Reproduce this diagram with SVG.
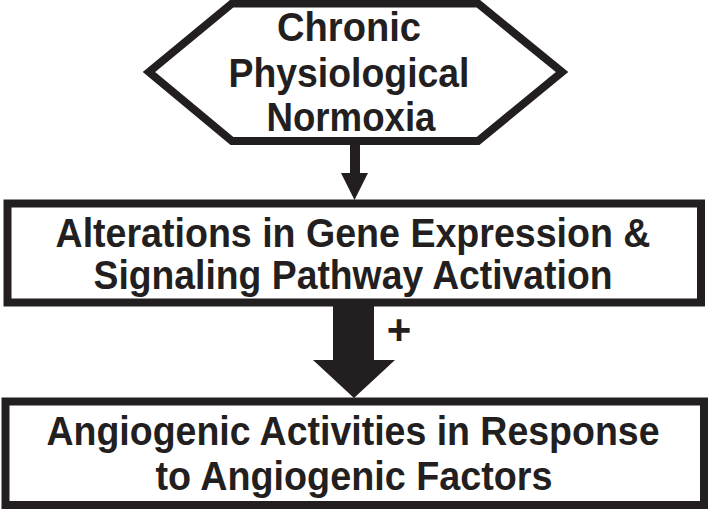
<svg xmlns="http://www.w3.org/2000/svg" width="709" height="511" viewBox="0 0 709 511">
<style>
.shape{fill:#fff;stroke:#231f20;stroke-width:8;stroke-linejoin:miter}
.t{font-family:"Liberation Sans",Arial,sans-serif;font-weight:bold;font-size:40px;fill:#231f20;text-anchor:middle}
.conn{fill:#231f20;stroke:none}
</style>
<rect width="709" height="511" fill="#fff"/>
<g id="node-normoxia">
<polygon class="shape" points="232,3.5 478,3.5 562,72 478,141 232,141 149,72"/>
<text class="t" x="349" y="41" textLength="144" lengthAdjust="spacingAndGlyphs">Chronic</text>
<text class="t" x="349" y="87" textLength="241" lengthAdjust="spacingAndGlyphs">Physiological</text>
<text class="t" x="351" y="131" textLength="169" lengthAdjust="spacingAndGlyphs">Normoxia</text>
</g>
<g id="node-alterations">
<rect class="shape" x="7.5" y="203.5" width="693.5" height="99"/>
<text class="t" x="353" y="247" textLength="595" lengthAdjust="spacingAndGlyphs">Alterations in Gene Expression &amp;</text>
<text class="t" x="353" y="289" textLength="519" lengthAdjust="spacingAndGlyphs">Signaling Pathway Activation</text>
</g>
<g id="node-angiogenic">
<rect class="shape" x="5.5" y="401.5" width="698.5" height="103.5"/>
<text class="t" x="353" y="445" textLength="613" lengthAdjust="spacingAndGlyphs">Angiogenic Activities in Response</text>
<text class="t" x="354" y="490" textLength="397" lengthAdjust="spacingAndGlyphs">to Angiogenic Factors</text>
</g>
<g id="connectors">
<polygon class="conn" points="350,144 360,144 360,173 368,173 354.5,200 341,173 350,173"/>
<polygon class="conn" points="333,306 374,306 374,360 395,360 354,398 313,360 333,360"/>
<text class="t" x="399" y="344" style="font-size:42px">+</text>
</g>
</svg>
